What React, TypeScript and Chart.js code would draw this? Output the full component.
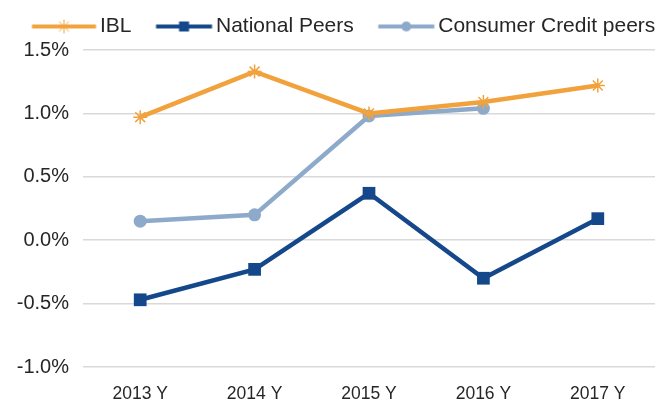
import React, { useEffect, useRef } from "react";
import { Chart, registerables } from "chart.js";

Chart.register(...registerables);

const categories = ["2013 Y", "2014 Y", "2015 Y", "2016 Y", "2017 Y"];
const iblValues = [0.97, 1.33, 1.0, 1.09, 1.22];
const nationalValues = [-0.47, -0.23, 0.37, -0.3, 0.17];
const consumerValues: (number | null)[] = [0.15, 0.2, 0.98, 1.04, null];
const yTicks = [-1.0, -0.5, 0.0, 0.5, 1.0, 1.5];

const ORANGE = "#F2A23C";
const NAVY = "#15488B";
const LIGHT = "#8DAACB";
const TEXT = "#262626";
const FONT = "Liberation Sans, Arial, sans-serif";

// legend icon: image 100 wide, centred on the legend box centre
function legendIcon(color: string, style: string): HTMLCanvasElement {
  const c = document.createElement("canvas");
  c.width = 100;
  c.height = 16;
  const ctx = c.getContext("2d")!;
  const x1 = 92.5;
  const x0 = style === "star" ? 28.5 : 36.5;
  const cx = (x0 + x1) / 2;
  const cy = 8;
  ctx.strokeStyle = color;
  ctx.fillStyle = color;
  ctx.lineWidth = 4;
  ctx.beginPath();
  ctx.moveTo(x0, cy);
  ctx.lineTo(x1, cy);
  ctx.stroke();
  if (style === "rect") {
    ctx.fillRect(cx - 5, cy - 5, 10, 10);
  } else if (style === "circle") {
    ctx.beginPath();
    ctx.arc(cx, cy, 5, 0, Math.PI * 2);
    ctx.fill();
  } else {
    ctx.lineWidth = 1;
    ctx.beginPath();
    for (let i = 0; i < 4; i++) {
      const a = (i * Math.PI) / 4;
      ctx.moveTo(cx - 7 * Math.cos(a), cy - 7 * Math.sin(a));
      ctx.lineTo(cx + 7 * Math.cos(a), cy + 7 * Math.sin(a));
    }
    ctx.stroke();
  }
  return c;
}

export default function App() {
  const ref = useRef<HTMLCanvasElement>(null);
  useEffect(() => {
    document.body.style.margin = "0";
    const chart = new Chart(ref.current!, {
      type: "line",
      data: {
        labels: categories,
        datasets: [
          {
            label: "IBL",
            data: iblValues,
            borderColor: ORANGE,
            backgroundColor: ORANGE,
            borderWidth: 4.5,
            pointStyle: "star",
            pointRadius: 7,
            pointBorderWidth: 1.5,
            pointBorderColor: ORANGE,
          },
          {
            label: "National Peers",
            data: nationalValues,
            borderColor: NAVY,
            backgroundColor: NAVY,
            borderWidth: 4.5,
            pointStyle: "rect",
            pointRadius: 9,
            pointBorderWidth: 0,
          },
          {
            label: "Consumer Credit peers",
            data: consumerValues,
            borderColor: LIGHT,
            backgroundColor: LIGHT,
            borderWidth: 4.5,
            pointStyle: "circle",
            pointRadius: 6.5,
            pointBorderWidth: 0,
          },
        ],
      },
      options: {
        animation: false,
        responsive: false,
        layout: { padding: { left: 15.5, right: 3, top: 14, bottom: 0 } },
        plugins: {
          tooltip: { enabled: false },
          legend: {
            position: "top",
            align: "start",
            labels: {
              usePointStyle: true,
              pointStyleWidth: 72,
              padding: 2,
              color: TEXT,
              font: { family: FONT, size: 21 },
              generateLabels: (ch: any) => {
                const styles = ["star", "rect", "circle"];
                return ch.data.datasets.map((ds: any, i: number) => ({
                  text: ds.label,
                  fillStyle: ds.borderColor,
                  strokeStyle: ds.borderColor,
                  lineWidth: 0,
                  pointStyle: legendIcon(ds.borderColor, styles[i]),
                  datasetIndex: i,
                  hidden: false,
                  fontColor: TEXT,
                }));
              },
            },
          },
        },
        scales: {
          x: {
            offset: true,
            grid: { display: false, drawTicks: false },
            border: { display: false },
            afterFit: (scale: any) => {
              scale.height = 36;
            },
            ticks: {
              color: TEXT,
              padding: 17,
              font: { family: FONT, size: 17.5 },
            },
          },
          xTop: {
            type: "category",
            position: "top",
            offset: true,
            grid: { display: false, drawTicks: false },
            border: { display: false },
            ticks: { display: false },
            afterFit: (scale: any) => {
              scale.height = 3;
            },
          },
          y: {
            min: -1.0,
            max: 1.5,
            afterBuildTicks: (axis: any) => {
              axis.ticks = yTicks.map((v) => ({ value: v }));
            },
            afterFit: (scale: any) => {
              scale.width = 67.5;
              scale.paddingTop = 0;
              scale.paddingBottom = 0;
            },
            grid: { color: "#D9D9D9", lineWidth: 1.5, drawTicks: false },
            border: { display: false },
            ticks: {
              color: TEXT,
              padding: 14,
              font: { family: FONT, size: 20 },
              callback: (v: any) => Number(v).toFixed(1) + "%",
            },
          },
        },
      },
    });
    return () => chart.destroy();
  }, []);
  return (
    <div style={{ width: 664, height: 403, background: "#fff" }}>
      <canvas ref={ref} width={664} height={403} />
    </div>
  );
}
